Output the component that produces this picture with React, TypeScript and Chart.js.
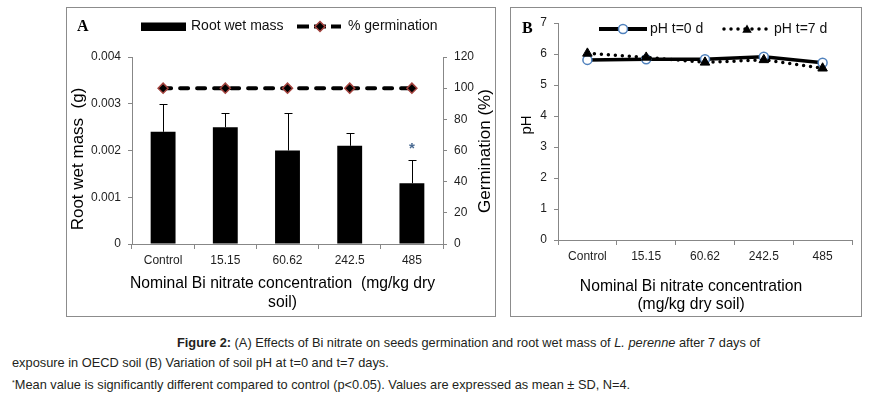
import React, { useEffect, useRef } from "react";
import { Chart, registerables } from "chart.js";

Chart.register(...registerables);

// ---------- data ----------
const categories = ["Control", "15.15", "60.62", "242.5", "485"];
const rootWetMass = [0.0024, 0.0025, 0.002, 0.0021, 0.0013];
const rootWetMassSD = [0.0006, 0.0003, 0.0008, 0.00027, 0.0005];
const germination = [100, 100, 100, 100, 100];
const significant = [false, false, false, false, true];
const phDay0 = [5.81, 5.83, 5.83, 5.91, 5.72];
const phDay7 = [6.02, 5.89, 5.73, 5.81, 5.54];

const massRange = [0, 0.004, 0.001];
const germRange = [0, 120, 20];
const phRange = [0, 7, 1];

// ---------- style ----------
const SANS = "'Liberation Sans', Arial, sans-serif";
const SERIF = "'Liberation Serif', 'Times New Roman', serif";
const AXIS = "#878787";
const TICK = "#1e1e1e";
const FRAME = "#8c8c8c";

function drawText(ctx: CanvasRenderingContext2D, s: string, x: number, y: number, font: string, align: CanvasTextAlign = "left", rot = 0, color = "#000") {
  ctx.save();
  ctx.translate(x, y);
  if (rot) ctx.rotate(rot);
  ctx.font = font;
  ctx.fillStyle = color;
  ctx.textAlign = align;
  ctx.textBaseline = "middle";
  ctx.fillText(s, 0, 0);
  ctx.restore();
}

function frame(chart: any) {
  const ctx = chart.ctx as CanvasRenderingContext2D;
  ctx.save();
  ctx.strokeStyle = FRAME;
  ctx.lineWidth = 1;
  ctx.strokeRect(0.5, 0.5, chart.width - 1, chart.height - 1);
  ctx.restore();
}

function axisBase() {
  return {
    border: { display: true, color: AXIS, width: 1 },
    grid: { drawOnChartArea: false, drawTicks: true, tickLength: 4, tickColor: AXIS },
    ticks: { color: TICK, font: { family: SANS, size: 12 }, padding: 7 },
  };
}

const errorBarsPlugin = {
  id: "errorBars",
  afterDatasetsDraw(chart: any) {
    const ctx = chart.ctx as CanvasRenderingContext2D;
    const meta = chart.getDatasetMeta(1);
    const y = chart.scales.y;
    ctx.save();
    ctx.strokeStyle = "#000";
    ctx.lineWidth = 1;
    meta.data.forEach((bar: any, i: number) => {
      const x = Math.round(bar.x) + 0.5;
      const top = Math.round(y.getPixelForValue(rootWetMass[i] + rootWetMassSD[i])) + 0.5;
      ctx.beginPath();
      ctx.moveTo(x, bar.y);
      ctx.lineTo(x, top);
      ctx.moveTo(x - 4, top);
      ctx.lineTo(x + 4, top);
      ctx.stroke();
      if (significant[i]) {
        drawText(ctx, "*", bar.x, top - 12, `bold 15px ${SANS}`, "center", 0, "#4a6a92");
      }
    });
    ctx.restore();
  },
};

const decorA = {
  id: "decorA",
  afterDraw(chart: any) {
    const ctx = chart.ctx as CanvasRenderingContext2D;
    frame(chart);
    drawText(ctx, "A", 11, 19.5, `bold 16px ${SERIF}`);
    // legend: bars
    ctx.save();
    ctx.fillStyle = "#000";
    ctx.fillRect(75, 15.5, 45, 8.5);
    ctx.restore();
    drawText(ctx, "Root wet mass", 125, 19.5, `14px ${SANS}`, "left", 0, "#111");
    // legend: line
    ctx.save();
    ctx.strokeStyle = "#000";
    ctx.lineWidth = 4;
    ctx.lineCap = "butt";
    ctx.setLineDash([12, 5]);
    ctx.beginPath();
    ctx.moveTo(231, 19.5);
    ctx.lineTo(275, 19.5);
    ctx.stroke();
    ctx.setLineDash([]);
    ctx.beginPath();
    ctx.moveTo(254, 14.5);
    ctx.lineTo(259, 19.5);
    ctx.lineTo(254, 24.5);
    ctx.lineTo(249, 19.5);
    ctx.closePath();
    ctx.fillStyle = "#000";
    ctx.fill();
    ctx.strokeStyle = "#a5443f";
    ctx.lineWidth = 1.5;
    ctx.stroke();
    ctx.restore();
    drawText(ctx, "% germination", 282, 19.5, `14px ${SANS}`, "left", 0, "#111");
    // axis titles
    drawText(ctx, "Root wet mass  (g)", 12, 152, `17px ${SANS}`, "center", -Math.PI / 2);
    drawText(ctx, "Germination (%)", 419.5, 144, `17px ${SANS}`, "center", -Math.PI / 2);
    drawText(ctx, "Nominal Bi nitrate concentration  (mg/kg dry", 216.5, 277, `15.7px ${SANS}`, "center");
    drawText(ctx, "soil)", 216.5, 296, `15.7px ${SANS}`, "center");
  },
};

const decorB = {
  id: "decorB",
  afterDraw(chart: any) {
    const ctx = chart.ctx as CanvasRenderingContext2D;
    frame(chart);
    drawText(ctx, "B", 12, 22, `bold 16px ${SERIF}`);
    ctx.save();
    // legend t=0
    ctx.strokeStyle = "#000";
    ctx.lineWidth = 4;
    ctx.beginPath();
    ctx.moveTo(89, 22);
    ctx.lineTo(137, 22);
    ctx.stroke();
    ctx.beginPath();
    ctx.arc(113, 22, 4.5, 0, Math.PI * 2);
    ctx.fillStyle = "#fff";
    ctx.fill();
    ctx.strokeStyle = "#4f81bd";
    ctx.lineWidth = 1.5;
    ctx.stroke();
    // legend t=7
    ctx.strokeStyle = "#000";
    ctx.lineWidth = 3.5;
    ctx.lineCap = "round";
    ctx.setLineDash([0, 7]);
    ctx.beginPath();
    ctx.moveTo(214, 22);
    ctx.lineTo(258, 22);
    ctx.stroke();
    ctx.setLineDash([]);
    const r = 5.5;
    ctx.beginPath();
    for (let k = 0; k < 3; k++) {
      const a = -Math.PI / 2 + (k * 2 * Math.PI) / 3;
      const px = 237 + r * Math.cos(a);
      const py = 23 + r * Math.sin(a);
      if (k === 0) ctx.moveTo(px, py);
      else ctx.lineTo(px, py);
    }
    ctx.closePath();
    ctx.fillStyle = "#000";
    ctx.fill();
    ctx.restore();
    drawText(ctx, "pH t=0 d", 140, 22, `14px ${SANS}`, "left", 0, "#111");
    drawText(ctx, "pH t=7 d", 264, 22, `14px ${SANS}`, "left", 0, "#111");
    // titles
    drawText(ctx, "pH", 17, 118, `15px ${SANS}`, "center", -Math.PI / 2);
    drawText(ctx, "Nominal Bi nitrate concentration", 181, 280, `15.7px ${SANS}`, "center");
    drawText(ctx, "(mg/kg dry soil)", 181, 298, `15.7px ${SANS}`, "center");
  },
};

function xScale(height: number) {
  const base = axisBase();
  return {
    type: "category" as const,
    offset: true,
    border: base.border,
    grid: { ...base.grid, offset: true, tickLength: 5 },
    ticks: { ...base.ticks, padding: 4, maxRotation: 0, autoSkip: false },
    afterFit: (s: any) => {
      s.height = height;
    },
  };
}

function yScale(position: "left" | "right", range: number[], width: number) {
  const base = axisBase();
  return {
    type: "linear" as const,
    position,
    min: range[0],
    max: range[1],
    border: base.border,
    grid: base.grid,
    ticks: { ...base.ticks, stepSize: range[2] },
    afterFit: (s: any) => {
      s.width = width;
    },
  };
}

function PanelA() {
  const ref = useRef<HTMLCanvasElement>(null);
  useEffect(() => {
    const chart = new Chart(ref.current!, {
      type: "bar",
      data: {
        labels: categories,
        datasets: [
          {
            type: "line",
            label: "% germination",
            data: germination,
            yAxisID: "y1",
            order: 0,
            borderColor: "#000",
            borderWidth: 4,
            borderDash: [8, 9],
            borderCapStyle: "round",
            pointStyle: "rectRot",
            pointRadius: 5,
            pointBackgroundColor: "#000",
            pointBorderColor: "#a5443f",
            pointBorderWidth: 1.5,
            fill: false,
            tension: 0,
          } as any,
          {
            type: "bar",
            label: "Root wet mass",
            data: rootWetMass,
            yAxisID: "y",
            order: 1,
            backgroundColor: "#000",
            barPercentage: 0.4,
            categoryPercentage: 1,
          } as any,
        ],
      },
      options: {
        responsive: false,
        animation: false,
        layout: { padding: { top: 50, left: 0, right: 0, bottom: 0 } },
        plugins: { legend: { display: false }, tooltip: { enabled: false } },
        scales: {
          x: xScale(73),
          y: yScale("left", massRange, 66),
          y1: yScale("right", germRange, 53),
        } as any,
      },
      plugins: [errorBarsPlugin, decorA],
    });
    return () => chart.destroy();
  }, []);
  return <canvas ref={ref} width={430} height={310} style={{ position: "absolute", left: 66, top: 7, width: 430, height: 310 }} />;
}

function PanelB() {
  const ref = useRef<HTMLCanvasElement>(null);
  useEffect(() => {
    const chart = new Chart(ref.current!, {
      type: "line",
      data: {
        labels: categories,
        datasets: [
          {
            label: "pH t=0 d",
            data: phDay0,
            order: 1,
            borderColor: "#000",
            borderWidth: 3.5,
            pointStyle: "circle",
            pointRadius: 4.5,
            pointBackgroundColor: "#fff",
            pointBorderColor: "#4f81bd",
            pointBorderWidth: 1.5,
            fill: false,
            tension: 0,
          },
          {
            label: "pH t=7 d",
            data: phDay7,
            order: 0,
            borderColor: "#000",
            borderWidth: 3.5,
            borderDash: [0, 7],
            borderCapStyle: "round",
            pointStyle: "triangle",
            pointRadius: 5.5,
            pointBackgroundColor: "#000",
            pointBorderColor: "#000",
            pointBorderWidth: 1,
            fill: false,
            tension: 0,
          } as any,
        ],
      },
      options: {
        responsive: false,
        animation: false,
        layout: { padding: { top: 16, left: 0, right: 10, bottom: 0 } },
        plugins: { legend: { display: false }, tooltip: { enabled: false } },
        scales: {
          x: xScale(77),
          y: yScale("left", phRange, 48),
        } as any,
      },
      plugins: [decorB],
    });
    return () => chart.destroy();
  }, []);
  return <canvas ref={ref} width={352} height={310} style={{ position: "absolute", left: 510, top: 7, width: 352, height: 310 }} />;
}

const captionStyle: React.CSSProperties = {
  position: "absolute",
  font: `12.8px ${SANS}`,
  lineHeight: "14px",
  whiteSpace: "nowrap",
  color: "#231f20",
};

export default function App() {
  return (
    <div style={{ position: "absolute", left: 0, top: 0, width: 896, height: 396, background: "#fff", overflow: "hidden" }}>
      <PanelA />
      <PanelB />
      <div style={{ ...captionStyle, left: 177, top: 336 }}>
        <b>Figure 2:</b> (A) Effects of Bi nitrate on seeds germination and root wet mass of <i>L. perenne</i> after 7 days of
      </div>
      <div style={{ ...captionStyle, left: 12, top: 356 }}>
        exposure in OECD soil (B) Variation of soil pH at t=0 and t=7 days.
      </div>
      <div style={{ ...captionStyle, left: 12, top: 376 }}>
        <span style={{ fontSize: 7, verticalAlign: "4px" }}>*</span>Mean value is significantly different compared to control (p&lt;0.05). Values are expressed as mean ± SD, N=4.
      </div>
    </div>
  );
}
